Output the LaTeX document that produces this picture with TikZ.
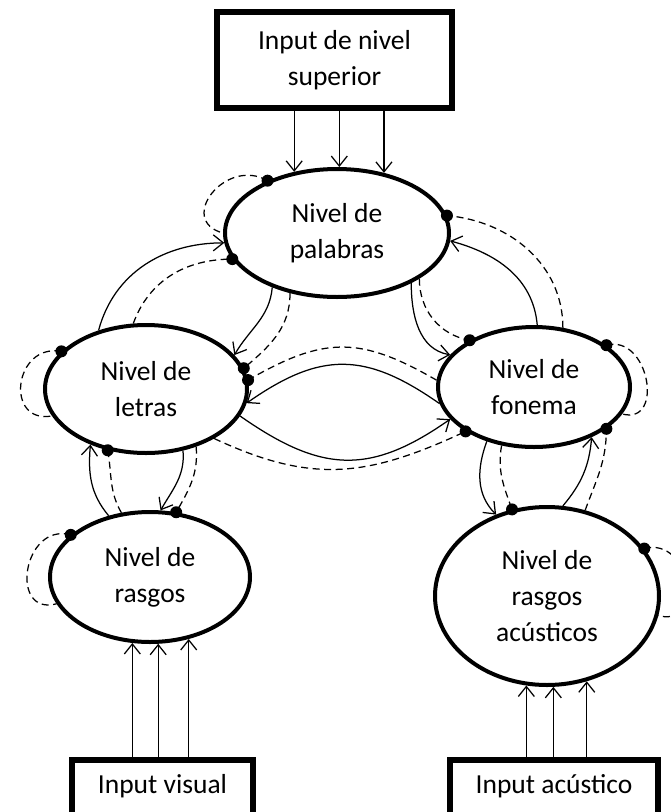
\documentclass[tikz,border=0pt]{standalone}
\usepackage{fontspec}
\setmainfont{Carlito}
\usetikzlibrary{arrows.meta,shapes.geometric}
\begin{document}
\begin{tikzpicture}[x=1pt,y=1pt,
  lvl/.style={ellipse, draw, line width=4pt, inner sep=0pt, align=center,
    font=\fontsize{27.5}{36}\selectfont},
  inbox/.style={rectangle, draw, line width=5.5pt, inner sep=0pt, align=center,
    font=\fontsize{27.5}{36}\selectfont},
  exc/.style={line width=1.25pt, -{Straight Barb[length=10pt,width=16pt,line width=1.25pt]}},
  inh/.style={line width=1.25pt, dash pattern=on 7pt off 4.5pt},
  blob/.style={fill=black}]
\useasboundingbox (0,0) rectangle (671,-812);
\fill[white] (0,0) rectangle (671,-812);
\clip (0,0) rectangle (671,-812);

% boxes
\node[inbox, minimum width=235pt, minimum height=96pt] (sup) at (334.5,-60) {Input de nivel\\superior};
\node[inbox, minimum width=181pt, text height=34pt, text depth=40pt, anchor=north] (vis) at (162.5,-757) {Input visual};
\node[inbox, minimum width=208pt, text height=34pt, text depth=40pt, anchor=north] (aco) at (554,-757) {Input acústico};

% levels
\node[lvl, minimum width=224pt, minimum height=128pt] (pal) at (337,-233) {Nivel de\\palabras};
\node[lvl, minimum width=202pt, minimum height=128pt] (let) at (146,-389) {Nivel de\\letras};
\node[lvl, minimum width=192pt, minimum height=120pt] (fon) at (534,-387) {Nivel de\\fonema};
\node[lvl, minimum width=200pt, minimum height=130pt] (ras) at (150,-577) {Nivel de\\rasgos};
\node[lvl, minimum width=224pt, minimum height=178pt] (acu) at (547,-596) {Nivel de\\rasgos\\acústicos};

% inputs
\foreach \a in {125.3,88.2,52.5} \draw[exc] (sup.south -| pal.\a) -- (pal.\a);
\foreach \a in {255.1,277.0,302.3} \draw[exc] (vis.north -| ras.\a) -- (ras.\a);
\foreach \a in {257.1,274.5,295.7} \draw[exc] (aco.north -| acu.\a) -- (acu.\a);

% letras <-> palabras
\draw[exc] (let.129.7) to[out=75,in=180] (pal.185);
\draw[inh] (let.101.5) to[out=70,in=180] (pal.194.6);
\draw[exc] (pal.220.9) to[out=-95,in=60] (let.21.3);
\draw[inh] (pal.232.6) to[out=-90,in=40] (let.12);

% palabras <-> fonema
\draw[exc] (pal.326.3) to[out=-90,in=170] (fon.159.6);
\draw[inh] (pal.331.9) to[out=-90,in=170] (fon.144.1);
\draw[exc] (fon.87.1) to[out=95,in=-15] (pal.356.5);
\draw[inh] (fon.64.6) to[out=90,in=-5] (pal.9.2);

% letras <-> fonema
\draw[exc] (fon.190.8) to[out=145,in=35,looseness=1.2] (let.352.5);
\draw[exc] (let.344.5) to[out=-35,in=215,looseness=1.2] (fon.201.9);
\draw[inh] (fon.176) to[out=150,in=30,looseness=1.2] (let.5);
\draw[inh] (let.324.4) to[out=-25,in=205,looseness=1.1] (fon.213.1);

% letras <-> rasgos
\draw[exc] (ras.124.7) to[out=130,in=265] (let.225.5);
\draw[inh] (ras.114.1) to[out=120,in=280] (let.238.2);
\draw[exc] (let.301.2) to[out=-85,in=60] (ras.81.8);
\draw[inh] (let.311.9) to[out=-85,in=60] (ras.68.3);

% fonema <-> acusticos
\draw[exc] (fon.229.6) to[out=-110,in=135] (acu.122.6);
\draw[inh] (fon.241) to[out=-100,in=110] (acu.112.8);
\draw[exc] (acu.80) to[out=50,in=265] (fon.319.5);
\draw[inh] (acu.66.3) to[out=70,in=270] (fon.330.8);

% self loops
\draw[inh] (pal.143.5) to[out=150,in=165,looseness=1.8] (pal.180);
\draw[inh] (let.156.3) to[out=170,in=190,looseness=1.9] (let.196.5);
\draw[inh] (ras.152.9) to[out=165,in=195,looseness=1.8] (ras.196.4);
\draw[inh] (fon.30.6) to[out=15,in=-15,looseness=1.6] (fon.343.5);
\draw[inh] (acu.26.1) to[out=15,in=-15,looseness=1.8] (acu.350.2);

% inhibitory dots
\foreach \p in {pal.194.6, let.12, fon.144.1, pal.9.2, let.5, fon.213.1,
  let.238.2, ras.68.3, acu.112.8, fon.330.8,
  pal.143.5, let.156.3, ras.152.9, fon.30.6, acu.26.1}
  \fill[blob] (\p) circle (6pt);
\end{tikzpicture}
\end{document}
